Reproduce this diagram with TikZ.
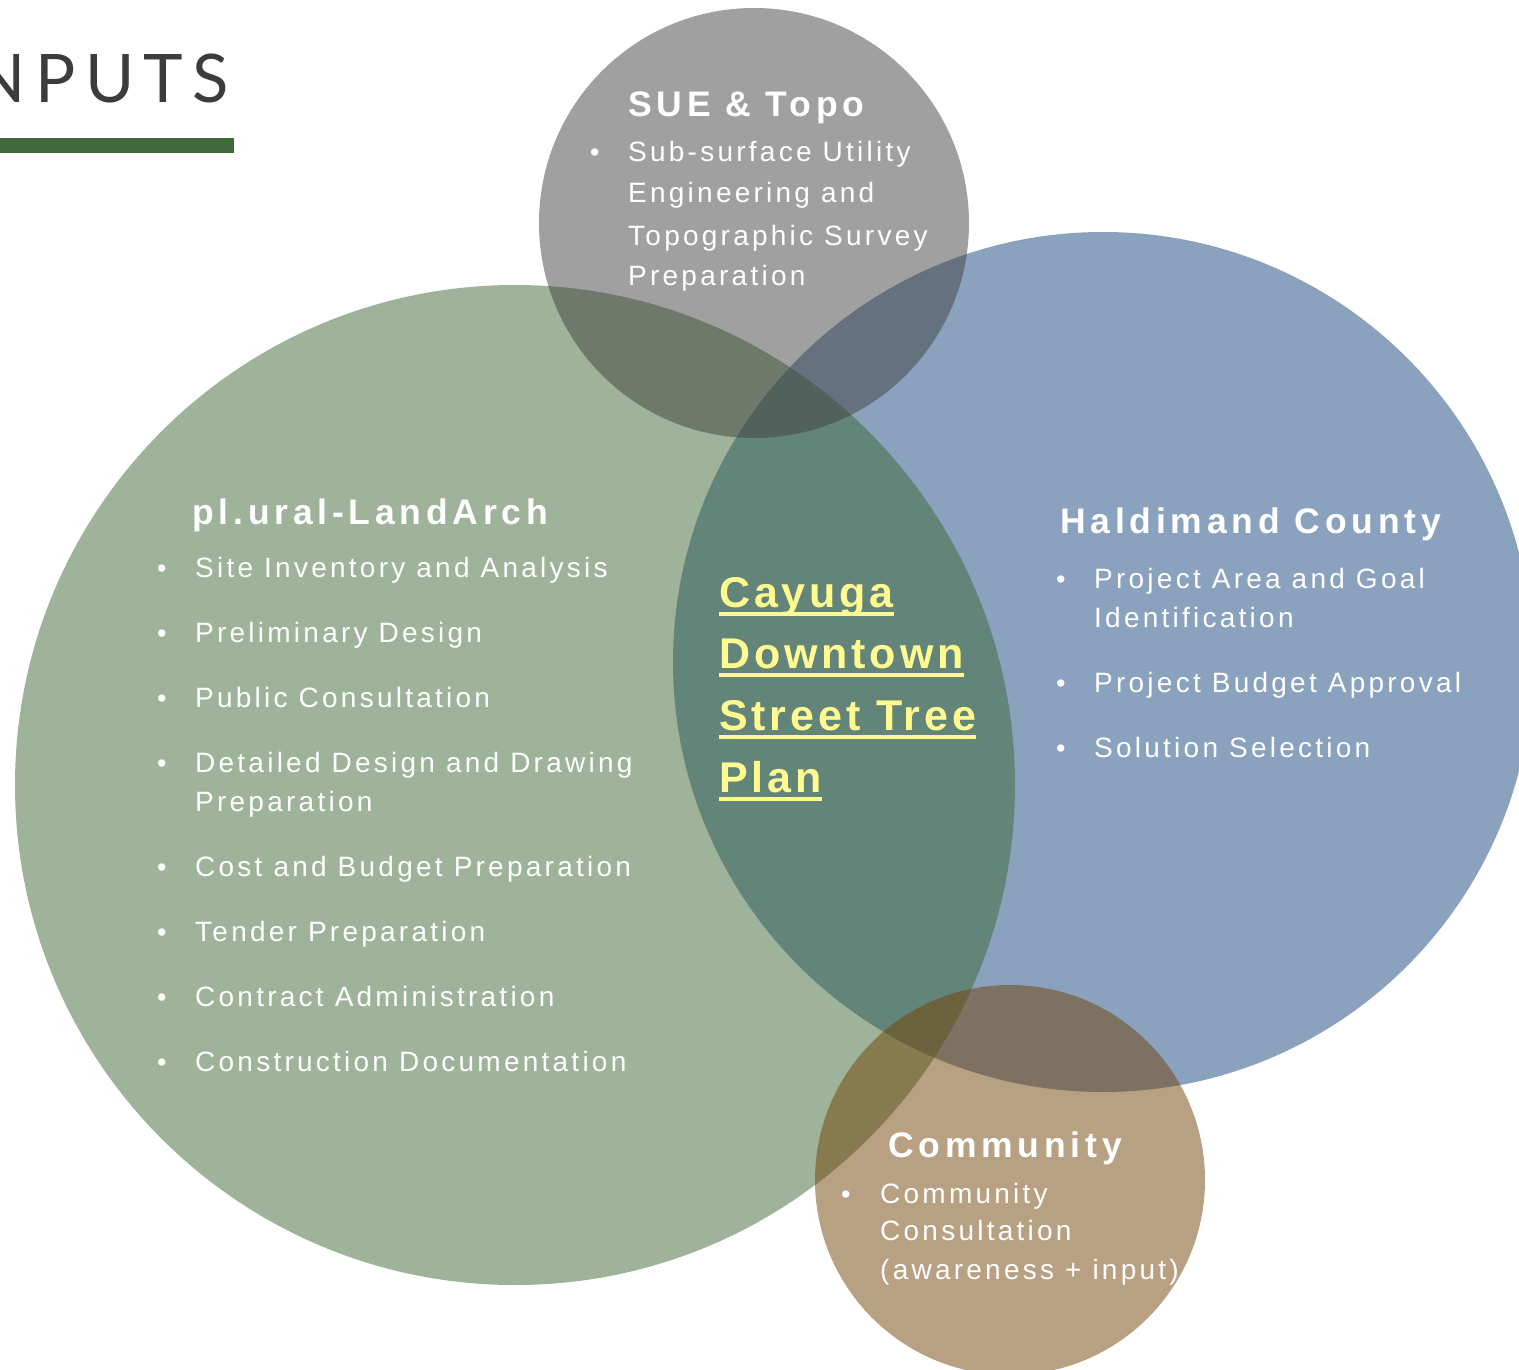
\documentclass[tikz,border=0pt]{standalone}
\usepackage{fontspec}
\setmainfont{Liberation Sans}
\newfontfamily\itemfont[LetterSpace=11.6]{Liberation Sans}
\newfontfamily\headfont[LetterSpace=13.5]{Liberation Sans}
\newfontfamily\planfont[LetterSpace=9]{Liberation Sans}
\newfontfamily\inputsfont[LetterSpace=14]{Lato}
\usetikzlibrary{positioning}

\definecolor{landgreen}{RGB}{61,103,51}
\definecolor{countyblue}{RGB}{23,69,127}
\definecolor{suegray}{RGB}{65,65,65}
\definecolor{commbrown}{RGB}{113,67,5}
\definecolor{planyellow}{RGB}{255,251,145}
\definecolor{bargreen}{RGB}{65,104,58}
\definecolor{inputsgray}{RGB}{60,60,60}

\newcommand{\planul}[1]{\setbox0=\hbox{#1}\rlap{\rule[-8.5pt]{\wd0}{3.5pt}}\box0}

\tikzset{
  venn/.style={fill opacity=0.5, draw=none},
  head/.style={anchor=base west, inner sep=0, text=white,
    font=\headfont\bfseries\fontsize{35.5}{42}\selectfont},
  entry/.style={anchor=base west, inner sep=0, text=white,
    font=\itemfont\fontsize{28}{34}\selectfont},
  dot/.style={anchor=base west, inner sep=0, text=white,
    font=\fontsize{27}{30}\selectfont},
  planline/.style={anchor=base west, inner sep=0, text=planyellow,
    font=\planfont\bfseries\fontsize{43}{50}\selectfont},
}

\begin{document}
\begin{tikzpicture}[x=1pt, y=-1pt]
\useasboundingbox (0,0) rectangle (1519,1370);

% circles
\fill[countyblue, venn] (1103,662) circle[radius=430];
\fill[landgreen, venn] (515,785) circle[radius=500];
\fill[suegray, venn] (754,223) circle[radius=215];
\fill[commbrown, venn] (1010,1180) circle[radius=195];

% heading
\node[anchor=base east, inner sep=0, text=inputsgray,
  font=\inputsfont\fontsize{67}{70}\selectfont] (inputs) at (229,103) {INPUTS};
\fill[bargreen] (0,138) rectangle (234,153);

% SUE & Topo
\node[head] (sue) at (628,117) {SUE \& Topo};
\node[dot] (sue-dot) at (590,162) {\textbullet};
\foreach \y/\txt in {162/Sub-surface Utility, 203/Engineering and,
    245/Topographic Survey, 285/Preparation}
  \node[entry] (sue-\y) at (628,\y) {\txt};

% pl.ural-LandArch
\node[head] (land) at (192,524) {pl.ural-LandArch};
\foreach \y/\txt in {577/Site Inventory and Analysis, 642/Preliminary Design,
    707/Public Consultation, 772/Detailed Design and Drawing, 811/Preparation,
    876/Cost and Budget Preparation, 941/Tender Preparation,
    1006/Contract Administration, 1071/Construction Documentation}
  \node[entry] (land-\y) at (195,\y) {\txt};
\foreach \y in {577,642,707,772,876,941,1006,1071}
  \node[dot] (land-dot-\y) at (157,\y) {\textbullet};

% Haldimand County
\node[head] (county) at (1060,533) {Haldimand County};
\foreach \y/\txt in {588/Project Area and Goal, 627/Identification,
    692/Project Budget Approval, 757/Solution Selection}
  \node[entry] (county-\y) at (1094,\y) {\txt};
\foreach \y in {588,692,757}
  \node[dot] (county-dot-\y) at (1056,\y) {\textbullet};

% Community
\node[head] (comm) at (888,1157) {Community};
\node[dot] (comm-dot) at (841,1203) {\textbullet};
\foreach \y/\txt in {1203/Community, 1240/Consultation, 1279/(awareness + input)}
  \node[entry] (comm-\y) at (880,\y) {\txt};

% plan title
\node[planline] (plan1) at (719,607) {\planul{Cayuga}};
\node[planline] (plan2) at (719,668) {\planul{Downtown}};
\node[planline] (plan3) at (719,730) {\planul{Street Tree}};
\node[planline] (plan4) at (719,792) {\planul{Plan}};
\end{tikzpicture}
\end{document}
